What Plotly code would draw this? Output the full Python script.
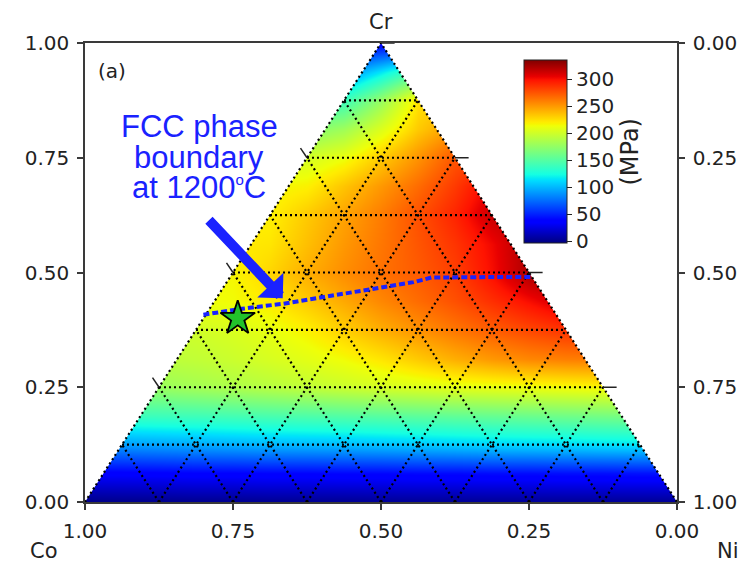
import plotly.graph_objects as go

# Composition plane: x = Ni + Cr/2, y = Cr (Co at bottom-left, Ni at bottom-right, Cr at top)
grid_x = [i / 16 for i in range(17)]
grid_y = [i / 16 for i in range(17)]

# Yield strength (MPa) on the grid, one row per Cr level (bottom to top)
strength = [
    [-2, -1, -1, 0, 0, 1, 1, 1, 2, 2, 2, 2, 2, 2, 2, 2, 2],
    [36, 36, 37, 38, 38, 39, 39, 40, 40, 41, 41, 42, 42, 43, 43, 44, 44],
    [90, 90, 92, 94, 96, 98, 99, 100, 102, 104, 106, 108, 109, 110, 112, 113, 113],
    [138, 138, 139, 140, 142, 144, 146, 148, 150, 152, 154, 156, 158, 160, 162, 164, 164],
    [178, 178, 178, 182, 186, 190, 194, 198, 202, 205, 208, 210, 212, 214, 216, 218, 218],
    [192, 192, 192, 194, 198, 203, 208, 214, 222, 232, 242, 250, 256, 259, 260, 260, 260],
    [198, 198, 198, 200, 204, 210, 218, 230, 242, 252, 262, 271, 279, 286, 288, 288, 288],
    [212, 212, 212, 212, 214, 220, 232, 244, 256, 266, 276, 288, 300, 312, 315, 315, 315],
    [214, 214, 214, 214, 216, 228, 242, 254, 264, 272, 282, 300, 322, 328, 328, 328, 328],
    [220, 220, 220, 220, 220, 222, 236, 250, 262, 274, 286, 302, 322, 325, 325, 325, 325],
    [216, 216, 216, 216, 216, 218, 232, 246, 260, 276, 292, 314, 318, 318, 318, 318, 318],
    [214, 214, 214, 214, 214, 214, 218, 234, 250, 266, 284, 305, 308, 308, 308, 308, 308],
    [200, 200, 200, 200, 200, 200, 202, 212, 232, 252, 274, 280, 280, 280, 280, 280, 280],
    [168, 168, 168, 168, 168, 168, 168, 180, 205, 232, 250, 250, 250, 250, 250, 250, 250],
    [130, 130, 130, 130, 130, 130, 130, 138, 176, 222, 230, 230, 230, 230, 230, 230, 230],
    [85, 85, 85, 85, 85, 85, 85, 85, 115, 148, 148, 148, 148, 148, 148, 148, 148],
    [35, 35, 35, 35, 35, 35, 35, 35, 35, 35, 35, 35, 35, 35, 35, 35, 35],
]

axis_ticks = [0, 0.25, 0.5, 0.75, 1.0]
left_labels = ["0.00", "0.25", "0.50", "0.75", "1.00"]
bottom_labels = ["1.00", "0.75", "0.50", "0.25", "0.00"]
right_labels = ["0.00", "0.25", "0.50", "0.75", "1.00"]
cbar_ticks = [0, 50, 100, 150, 200, 250, 300]

# FCC phase boundary at 1200 C
boundary_x = [0.200, 0.265, 0.335, 0.400, 0.480, 0.555, 0.585, 0.680, 0.753]
boundary_y = [0.408, 0.421, 0.432, 0.445, 0.463, 0.479, 0.489, 0.490, 0.490]

# Highlighted alloy
star_x = [0.258]
star_y = [0.400]

# matplotlib "jet"
jet = [
    [0.0, "rgb(0,0,128)"], [0.11, "rgb(0,0,255)"], [0.125, "rgb(0,0,255)"],
    [0.34, "rgb(0,219,255)"], [0.35, "rgb(0,230,247)"], [0.375, "rgb(21,255,226)"],
    [0.64, "rgb(239,255,8)"], [0.65, "rgb(247,245,0)"], [0.66, "rgb(255,236,0)"],
    [0.89, "rgb(255,19,0)"], [0.91, "rgb(232,0,0)"], [1.0, "rgb(128,0,0)"],
]

BLUE = "#1a22ff"
INK = "#222222"
AX = "#3a3a3a"
FONT = "DejaVu Sans"

fig = go.Figure()

fig.add_trace(go.Heatmap(
    x=grid_x, y=grid_y, z=strength, zsmooth="best",
    colorscale=jet, zmin=-4, zmax=335, hoverinfo="skip",
    colorbar=dict(
        x=(524 - 85) / 592, xanchor="left", xpad=0,
        y=(502 - 243) / 459.5, yanchor="bottom", ypad=0,
        len=(243 - 60) / 459.5, lenmode="fraction", thickness=43,
        outlinewidth=1, outlinecolor=INK,
        tickvals=cbar_ticks, ticks="outside", ticklen=5, tickcolor=INK,
        tickfont=dict(size=20, color=INK, family=FONT),
        title=dict(text="(MPa)", side="right",
                   font=dict(size=24, color=INK, family=FONT)),
    ),
))

# white out everything outside the composition triangle
for mx, my in (([0, 0.5, 0.5, -0.1, -0.1, 0], [0, 1, 1.1, 1.1, 0, 0]),
               ([1, 0.5, 0.5, 1.1, 1.1, 1], [0, 1, 1.1, 1.1, 0, 0])):
    fig.add_trace(go.Scatter(x=mx, y=my, mode="lines", fill="toself",
                             fillcolor="white", line=dict(width=0, color="white"),
                             hoverinfo="skip", showlegend=False))

# dotted ternary grid (steps of 1/8) and triangle edges
gx, gy = [], []
for k in range(1, 8):
    c = k / 8
    gx += [c / 2, 1 - c / 2, None]
    gy += [c, c, None]
    gx += [c, (1 + c) / 2, None]
    gy += [0, 1 - c, None]
    gx += [1 - c, (1 - c) / 2, None]
    gy += [0, 1 - c, None]
gx += [0, 0.5, 1]
gy += [0, 1, 0]
fig.add_trace(go.Scatter(x=gx, y=gy, mode="lines",
                         line=dict(color="black", width=2.2, dash="2px,3px"),
                         hoverinfo="skip", showlegend=False))

# phase boundary
fig.add_trace(go.Scatter(x=boundary_x, y=boundary_y, mode="lines",
                         line=dict(color=BLUE, width=4, dash="6px,3px"),
                         hoverinfo="skip", showlegend=False))

# star marker
fig.add_trace(go.Scatter(x=star_x, y=star_y, mode="markers",
                         marker=dict(symbol="star", size=26, color="#22c22a",
                                     line=dict(color="black", width=1.8)),
                         hoverinfo="skip", showlegend=False))

# ternary edge ticks
tx, ty = [], []
for t in axis_ticks[1:4]:
    tx += [t / 2, t / 2 - 0.011, None]
    ty += [t, t + 0.021, None]
for t in axis_ticks[1:]:
    tx += [1 - t / 2, 1 - t / 2 + 0.023, None]
    ty += [t, t, None]
fig.add_trace(go.Scatter(x=tx, y=ty, mode="lines",
                         line=dict(color=INK, width=1.5),
                         hoverinfo="skip", showlegend=False))

# placeholder trace so the right-hand axis is drawn
fig.add_trace(go.Scatter(x=[0.5], y=[0.5], yaxis="y2", mode="markers",
                         marker=dict(opacity=0), hoverinfo="skip", showlegend=False))

axis_common = dict(showgrid=False, zeroline=False, showline=True, linecolor=AX,
                   linewidth=1.5, ticks="outside", ticklen=6, tickwidth=1.5,
                   tickcolor=AX, ticklabelstandoff=4, automargin=False,
                   tickfont=dict(size=20, color=INK, family=FONT))

fig.update_layout(
    width=742, height=562,
    margin=dict(l=85, r=65, t=43, b=60, autoexpand=False),
    plot_bgcolor="white", paper_bgcolor="white",
    showlegend=False,
    font=dict(family=FONT, color=INK),
    xaxis=dict(range=[0, 1], tickvals=axis_ticks, ticktext=bottom_labels,
               mirror=True, **axis_common),
    yaxis=dict(range=[0, 1], tickvals=axis_ticks, ticktext=left_labels, **axis_common),
    yaxis2=dict(range=[1, 0], overlaying="y", side="right", tickvals=axis_ticks,
                ticktext=right_labels, **axis_common),
)

ann = [
    dict(text="(a)", x=0.046, y=0.938, xref="x", yref="y", showarrow=False,
         xanchor="center", yanchor="middle",
         font=dict(size=20, color=INK, family=FONT)),
    dict(text="Cr", x=0.5, y=(502 - 21) / 459.5, xref="x", yref="paper", showarrow=False,
         xanchor="center", yanchor="middle",
         font=dict(size=21, color=INK, family=FONT)),
    dict(text="Co", x=(44 - 85) / 592, y=(502 - 551) / 459.5, xref="paper", yref="paper",
         showarrow=False, xanchor="center", yanchor="middle",
         font=dict(size=21, color=INK, family=FONT)),
    dict(text="Ni", x=(728 - 85) / 592, y=(502 - 551) / 459.5, xref="paper", yref="paper",
         showarrow=False, xanchor="center", yanchor="middle",
         font=dict(size=21, color=INK, family=FONT)),
]
label_lines = ("FCC phase", "boundary",
               "at 1200<sup><span style='font-size:15px'>o</span></sup>C")
for text, yy in zip(label_lines, (0.818, 0.750, 0.686)):
    ann.append(dict(text=text, x=0.193, y=yy, xref="x", yref="y", showarrow=False,
                    xanchor="center", yanchor="middle",
                    font=dict(size=31, color=BLUE, family="Liberation Sans")))
ann.append(dict(text="", x=0.334, y=0.444, ax=0.207, ay=0.617, xref="x", yref="y",
                axref="x", ayref="y", showarrow=True, arrowhead=1, arrowsize=0.6,
                arrowwidth=10, arrowcolor=BLUE))
fig.update_layout(annotations=ann)

fig.write_html("out.html")
